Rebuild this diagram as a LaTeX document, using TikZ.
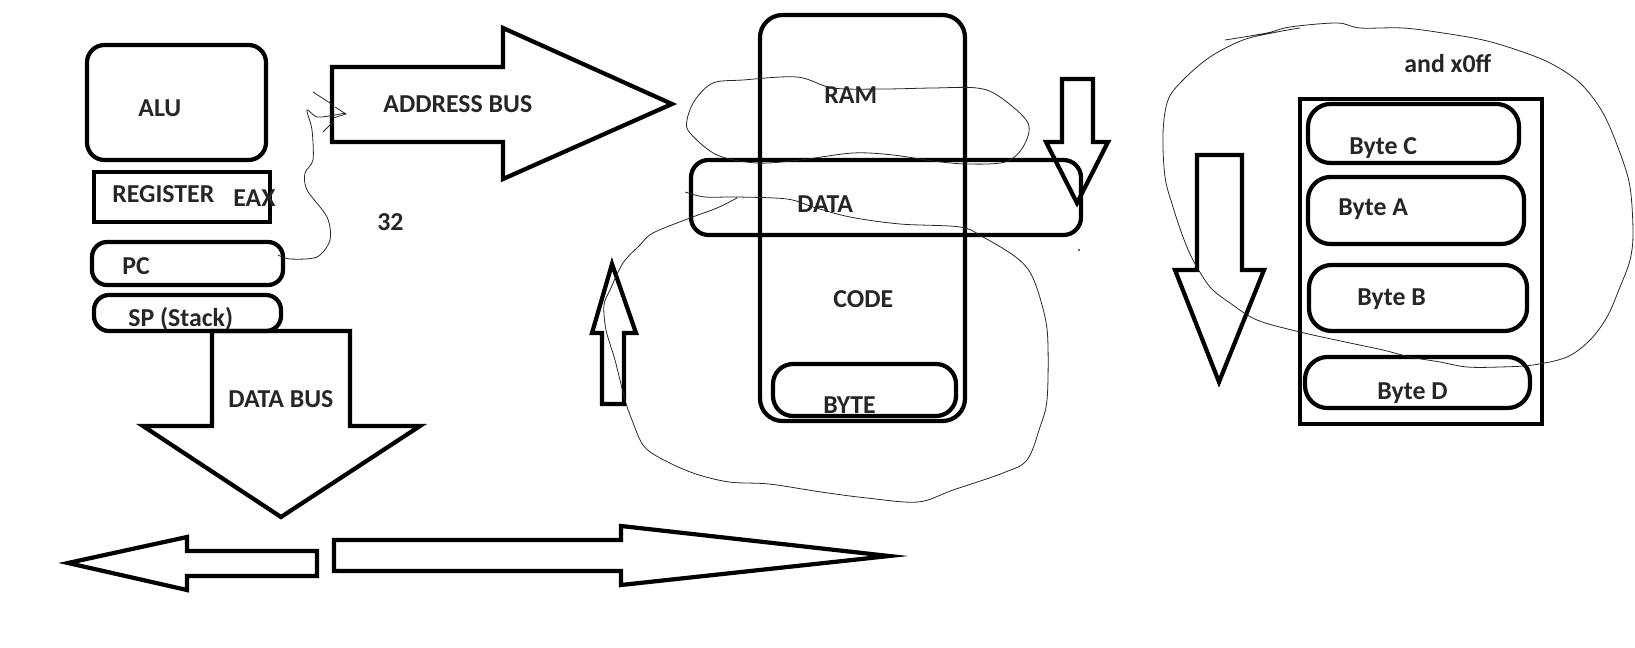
\documentclass[tikz,border=0pt]{standalone}
\usepackage{fontspec}
\setmainfont{Carlito}
\usetikzlibrary{fit}
\definecolor{ink}{HTML}{262626}
\begin{document}
\begin{tikzpicture}[x=0.02cm,y=-0.02cm,
  arrowshape/.style={draw, line width=2.4pt, line join=miter},
  box/.style={draw, line width=2.4pt, inner sep=0pt},
  sketch/.style={line width=0.45pt, draw=black!85},
  lbl/.style={anchor=base west, inner sep=0pt, text=ink, font=\fontsize{14.7}{17}\selectfont\bfseries}]
\useasboundingbox (0,0) rectangle (1635,648);

% ---- CPU side boxes
\node[box, rounded corners=0.35cm, fit={(87,45) (266,160)}] (alu) {};
\node[box, fit={(94,172) (270,222)}] (reg) {};
\node[box, rounded corners=0.3cm, fit={(92,242) (283,285)}] (pc) {};
\node[box, rounded corners=0.3cm, fit={(94,295) (281,331)}] (sp) {};

\node[lbl] (alut) at (138,117) {ALU};
\node[lbl] (regt) at (112,203) {REGISTER};
\node[lbl] (eaxt) at (233,207) {EAX};
\node[lbl] (pct) at (122,275) {PC};
\node[lbl] (spt) at (128,326) {SP (Stack)};

% ---- address bus arrow
\draw[arrowshape] (332,67) -- (503,67) -- (503,28) -- (672,104) -- (503,179) -- (503,142) -- (332,142) -- cycle;
\node[lbl] (addr) at (383,113) {ADDRESS BUS};
\node[lbl] (n32) at (377,231) {32};

% ---- data bus arrow
\draw[arrowshape] (212,331) -- (350,331) -- (350,426) -- (420,426) -- (281,517) -- (143,426) -- (212,426) -- cycle;
\node[lbl] (dbus) at (228,407) {DATA BUS};

% ---- bottom arrows
\draw[arrowshape] (317,551) -- (187,551) -- (187,537) -- (68,563) -- (187,590) -- (187,576) -- (317,576) -- cycle;
\draw[arrowshape] (334,540) -- (621,540) -- (621,526) -- (889,556) -- (621,585) -- (621,571) -- (334,571) -- cycle;

% ---- small up arrow
\draw[arrowshape] (602,404) -- (602,333) -- (592,333) -- (612,264) -- (636,333) -- (624,333) -- (624,404) -- cycle;

% ---- RAM
\node[box, rounded corners=0.45cm, fit={(760,15) (965,421)}] (ram) {};
\node[box, rounded corners=0.35cm, fit={(691,160) (1081,235)}] (data) {};
\node[box, rounded corners=0.4cm, fit={(773,364) (956,416)}] (byte) {};
\node[lbl] (ramt) at (824,104) {RAM};
\node[lbl] (datat) at (797,213) {DATA};
\node[lbl] (codet) at (833,308) {CODE};
\node[lbl] (bytet) at (823,413) {BYTE};

% ---- down arrow next to RAM
\draw[arrowshape] (1062,79) -- (1093,79) -- (1093,142) -- (1108,142) -- (1077,203) -- (1046,142) -- (1062,142) -- cycle;
\fill[black!80] (1079,250) circle (1.2);

% ---- right side
\draw[arrowshape] (1197,155) -- (1242,155) -- (1242,270) -- (1264,270) -- (1219,382) -- (1175,270) -- (1197,270) -- cycle;
\node[box, fit={(1300,99) (1542,424)}] (mem) {};
\node[box, rounded corners=0.45cm, fit={(1308,104) (1519,163)}] (bc) {};
\node[box, rounded corners=0.45cm, fit={(1308,177) (1524,244)}] (ba) {};
\node[box, rounded corners=0.45cm, fit={(1309,265) (1527,331)}] (bb) {};
\node[box, rounded corners=0.45cm, fit={(1305,357) (1530,408)}] (bd) {};
\node[lbl] (andt) at (1404,73) {and x0ff};
\node[lbl] (bct) at (1349,155) {Byte C};
\node[lbl] (bat) at (1338,216) {Byte A};
\node[lbl] (bbt) at (1357,306) {Byte B};
\node[lbl] (bdt) at (1377,399) {Byte D};

% ---- hand-drawn thin strokes
\draw[sketch] plot[smooth, tension=0.5] coordinates {(278,255) (290,259) (317,257) (330,240) (327,217) (307,190) (305,173) (313,160) (312,130) (307,110) (317,117) (335,115) (345,113)};
\draw[sketch] (313,92) -- (333,105);
\draw[sketch] (323,132) -- (333,122);
\draw[sketch] (335,107) -- (346,114) -- (333,118);

\draw[sketch] plot[smooth cycle, tension=0.55] coordinates {(797,77) (743,80) (713,83) (695,100) (687,120) (690,133) (717,155) (757,163) (800,160) (853,153) (893,155) (933,161) (967,164) (1005,162) (1023,147) (1028,123) (1000,97) (977,88) (933,88) (883,89) (833,88)};

\draw[sketch] plot[smooth, tension=0.55] coordinates {(685,192) (705,197) (737,197) (787,199) (813,207) (850,217) (900,224) (960,227) (983,237) (1017,258) (1033,278) (1045,317) (1048,347) (1047,400) (1040,427) (1027,460) (1003,473) (953,490) (918,502) (867,498) (821,492) (769,484) (729,482) (693,473) (660,458) (643,445) (632,420) (625,400) (615,360) (606,330) (604,305) (610,290) (623,263) (640,245) (653,233) (690,218) (717,208) (737,198)};

\draw[sketch] plot[smooth, tension=0.55] coordinates {(1225,40) (1267,33) (1290,27) (1337,23) (1360,28) (1403,28) (1443,33) (1483,40) (1517,50) (1550,63) (1580,83) (1603,113) (1620,153) (1630,187) (1633,233) (1630,260) (1620,287) (1607,317) (1590,340) (1567,357) (1533,365) (1500,367) (1467,367) (1440,362) (1410,357) (1383,350) (1350,343) (1300,332) (1257,320) (1230,303) (1210,287) (1193,260) (1183,237) (1173,207) (1165,177) (1163,133) (1168,100) (1183,80) (1210,57) (1243,40) (1277,32) (1300,28)};
\end{tikzpicture}
\end{document}
